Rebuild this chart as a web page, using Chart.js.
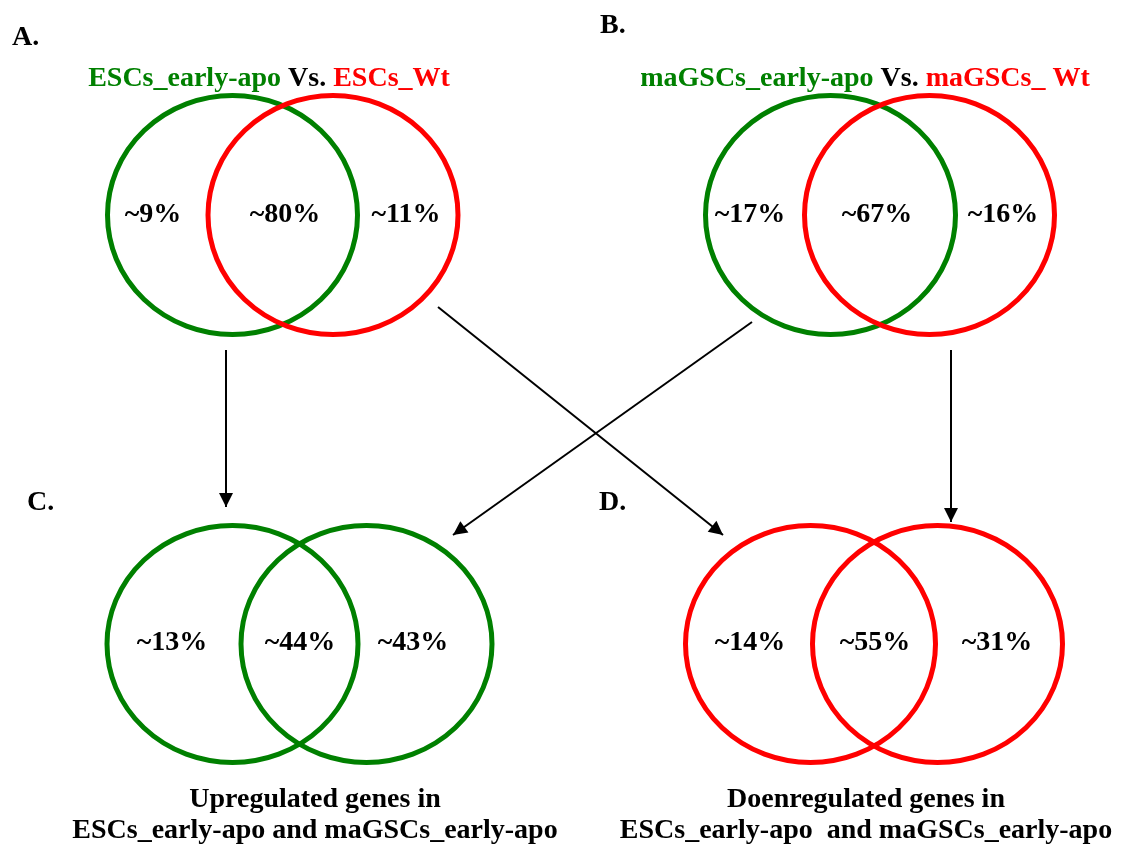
<!DOCTYPE html>
<html>
<head>
<meta charset="utf-8">
<script src="https://cdn.jsdelivr.net/npm/chart.js@4.4.1/dist/chart.umd.min.js"></script>
<style>
  html, body { margin: 0; padding: 0; background: #ffffff; }
  canvas { display: block; }
</style>
</head>
<body>
<canvas id="venn" width="1127" height="848"></canvas>
<script>
// ---- data ----
const panelLetters = ['A.', 'B.', 'C.', 'D.'];
const leftSetNames = ['ESCs_early-apo', 'maGSCs_early-apo'];
const rightSetNames = ['ESCs_Wt', 'maGSCs_ Wt'];
const versusWord = 'Vs.';
// share of genes in: left only, overlap, right only (percent)
const sharesA = [9, 80, 11];
const sharesB = [17, 67, 16];
const sharesC = [13, 44, 43];
const sharesD = [14, 55, 31];
const captionC = ['Upregulated genes in', 'ESCs_early-apo and maGSCs_early-apo'];
const captionD = ['Doenregulated genes in', 'ESCs_early-apo  and maGSCs_early-apo'];

// ---- layout (coordinates in the 1127 x 848 drawing space) ----
const GREEN = '#008000';
const RED = '#ff0000';
const INK = '#000000';
const FONT = 'bold 28px "Liberation Serif", "Times New Roman", serif';

const vennLayout = [
  { shares: sharesA, cx: [232.5, 333], cy: 215, rx: 125, ry: 119.5, colors: [GREEN, RED],
    labelX: [153, 285, 406], labelY: 222 },
  { shares: sharesB, cx: [830.5, 929.5], cy: 215, rx: 125, ry: 119.5, colors: [GREEN, RED],
    labelX: [750, 877, 1003], labelY: 222 },
  { shares: sharesC, cx: [232.5, 366.5], cy: 644, rx: 125.5, ry: 118.5, colors: [GREEN, GREEN],
    labelX: [172, 300, 413], labelY: 650 },
  { shares: sharesD, cx: [810.5, 937.5], cy: 644, rx: 125, ry: 118.5, colors: [RED, RED],
    labelX: [750, 875, 997], labelY: 650 }
];
const letterPos = [[12, 45], [600, 33], [27, 510], [599, 510]];
const titlePos = [[269, 86], [865, 86]];
const captionPos = [[315, 807, 838], [866, 807, 838]];

// arrow shafts: start -> tip
const arrowStartX = [226, 438, 752, 951];
const arrowStartY = [350, 307, 322, 350];
const arrowTipX   = [226, 723, 453, 951];
const arrowTipY   = [507, 535, 535, 522];

const arrowDatasets = arrowStartX.map((_, i) => ({
  label: 'arrow' + i,
  data: [{ x: arrowStartX[i], y: arrowStartY[i] }, { x: arrowTipX[i], y: arrowTipY[i] }],
  showLine: true,
  borderColor: INK,
  borderWidth: 2,
  pointRadius: 0,
  fill: false
}));

// ellipses of the Venn diagrams, placed through the chart scales
const vennPlugin = {
  id: 'vennCircles',
  beforeDatasetsDraw(chart) {
    const { ctx, scales: { x, y } } = chart;
    ctx.save();
    ctx.lineWidth = 5;
    vennLayout.forEach(v => {
      v.cx.forEach((cx, k) => {
        const px = x.getPixelForValue(cx);
        const py = y.getPixelForValue(v.cy);
        const rxp = Math.abs(x.getPixelForValue(cx + v.rx) - px);
        const ryp = Math.abs(y.getPixelForValue(v.cy + v.ry) - py);
        ctx.beginPath();
        ctx.ellipse(px, py, rxp, ryp, 0, 0, Math.PI * 2);
        ctx.strokeStyle = v.colors[k];
        ctx.stroke();
      });
    });
    ctx.restore();
  }
};

// arrowheads at the end of each shaft
const arrowHeadPlugin = {
  id: 'arrowHeads',
  afterDatasetsDraw(chart) {
    const { ctx } = chart;
    ctx.save();
    ctx.fillStyle = INK;
    chart.data.datasets.forEach((ds, i) => {
      const pts = chart.getDatasetMeta(i).data;
      const a = pts[0], b = pts[1];
      const ang = Math.atan2(b.y - a.y, b.x - a.x);
      const len = 14, half = 7;
      const bx = b.x - Math.cos(ang) * len;
      const by = b.y - Math.sin(ang) * len;
      ctx.beginPath();
      ctx.moveTo(b.x, b.y);
      ctx.lineTo(bx + Math.sin(ang) * half, by - Math.cos(ang) * half);
      ctx.lineTo(bx - Math.sin(ang) * half, by + Math.cos(ang) * half);
      ctx.closePath();
      ctx.fill();
    });
    ctx.restore();
  }
};

// letters, titles, percentages and captions
const textPlugin = {
  id: 'vennText',
  afterDraw(chart) {
    const { ctx, scales: { x, y } } = chart;
    ctx.save();
    ctx.font = FONT;
    ctx.textBaseline = 'alphabetic';

    ctx.fillStyle = INK;
    ctx.textAlign = 'left';
    panelLetters.forEach((t, i) => {
      ctx.fillText(t, x.getPixelForValue(letterPos[i][0]), y.getPixelForValue(letterPos[i][1]));
    });

    titlePos.forEach((p, i) => {
      const parts = [
        [leftSetNames[i], GREEN],
        [' ' + versusWord + ' ', INK],
        [rightSetNames[i], RED]
      ];
      const total = parts.reduce((s, q) => s + ctx.measureText(q[0]).width, 0);
      let px = x.getPixelForValue(p[0]) - total / 2;
      const py = y.getPixelForValue(p[1]);
      ctx.textAlign = 'left';
      parts.forEach(([t, c]) => {
        ctx.fillStyle = c;
        ctx.fillText(t, px, py);
        px += ctx.measureText(t).width;
      });
    });

    ctx.fillStyle = INK;
    ctx.textAlign = 'center';
    vennLayout.forEach(v => {
      v.shares.forEach((s, k) => {
        ctx.fillText('~' + s + '%', x.getPixelForValue(v.labelX[k]), y.getPixelForValue(v.labelY));
      });
    });

    [captionC, captionD].forEach((lines, i) => {
      const p = captionPos[i];
      lines.forEach((t, k) => {
        ctx.fillText(t, x.getPixelForValue(p[0]), y.getPixelForValue(p[1 + k]));
      });
    });
    ctx.restore();
  }
};

new Chart(document.getElementById('venn'), {
  type: 'scatter',
  data: { datasets: arrowDatasets },
  options: {
    responsive: false,
    animation: false,
    devicePixelRatio: 1,
    events: [],
    layout: { padding: 0 },
    plugins: { legend: { display: false }, tooltip: { enabled: false }, title: { display: false } },
    scales: {
      x: { type: 'linear', min: 0, max: 1127, display: false },
      y: { type: 'linear', min: 0, max: 848, reverse: true, display: false }
    }
  },
  plugins: [vennPlugin, arrowHeadPlugin, textPlugin]
});
</script>
</body>
</html>
